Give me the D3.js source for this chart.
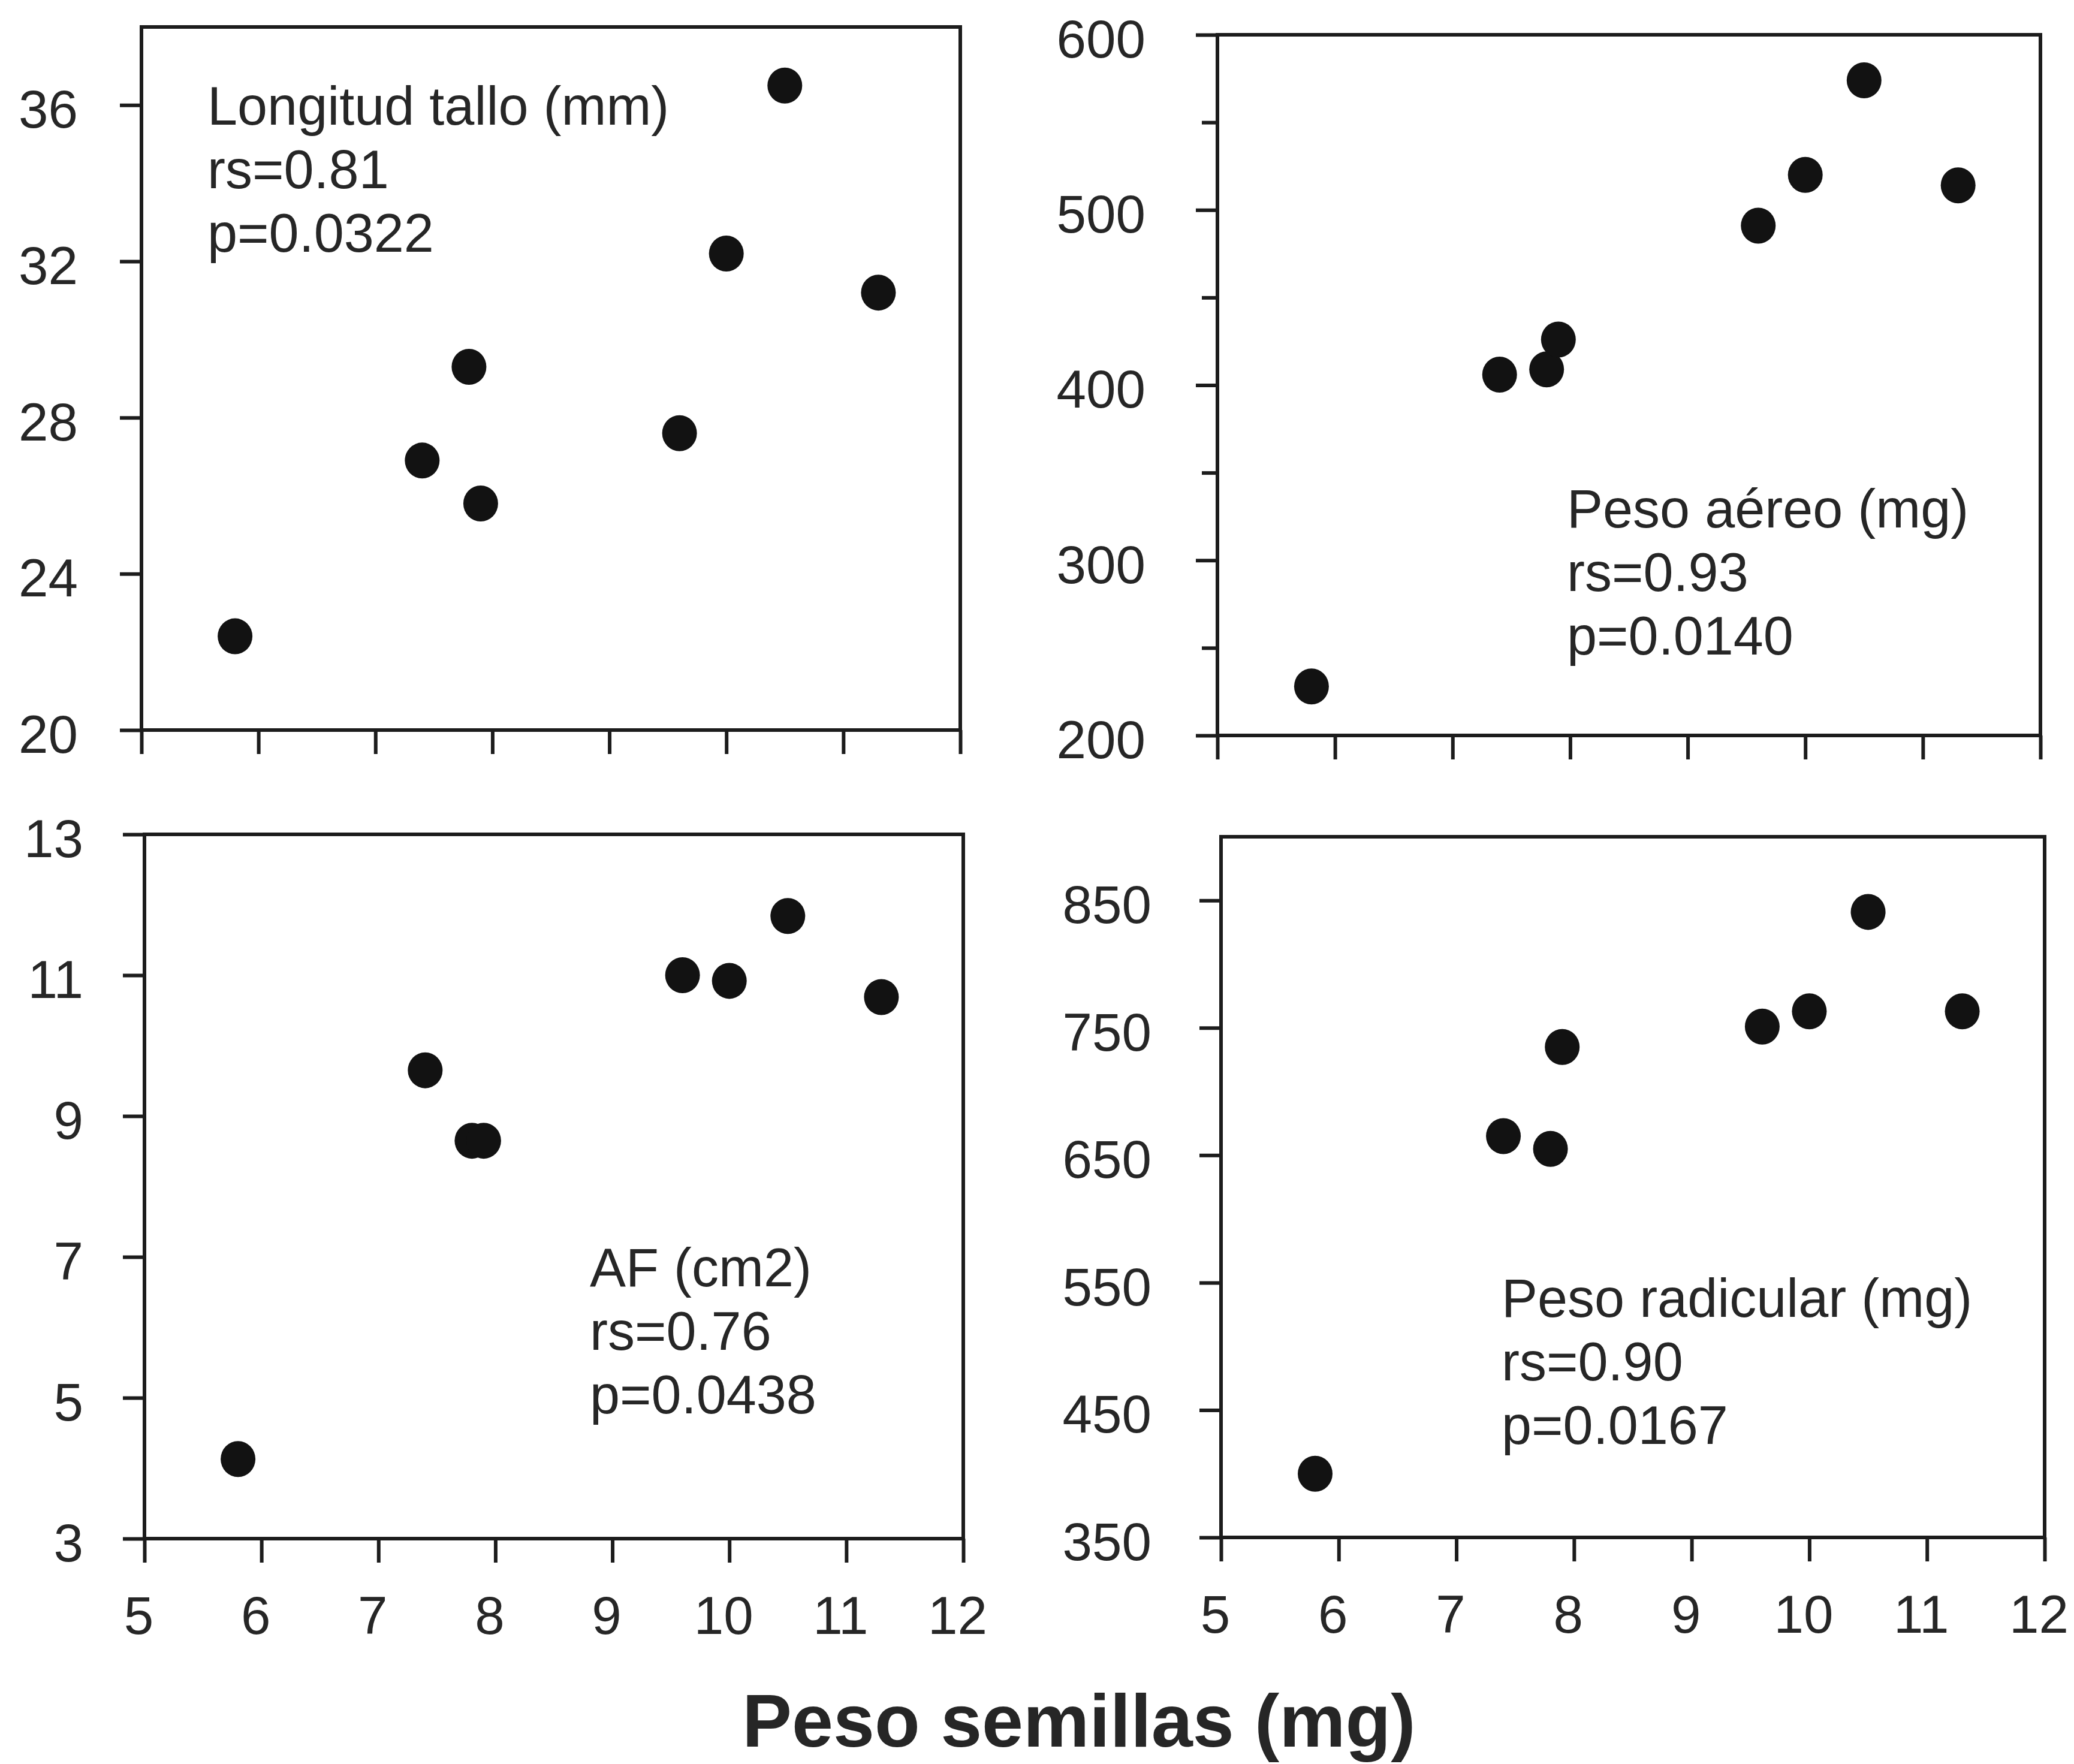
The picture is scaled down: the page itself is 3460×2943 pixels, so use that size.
<!DOCTYPE html>
<html lang="es">

<head>
    <meta charset="UTF-8">
    <title>Peso semillas</title>
    <script src="https://d3js.org/d3.v7.min.js"></script>
    <style>
        body { margin: 0; background: #fff; }
        text { font-family: "Liberation Sans", Arial, Helvetica, sans-serif; fill: #262626; }
        .frame { fill: none; stroke: #1c1c1c; stroke-width: 6; }
        .tick line { stroke: #1c1c1c; stroke-width: 6; }
        .dot { fill: #121212; }
    </style>
</head>

<body>
    <svg width="3460" height="2943"></svg>

    <script>
        // seed weight (mg), shared x values of the four panels
        const seedWeight = [5.8, 7.4, 7.8, 7.9, 9.6, 10.0, 10.5, 11.3];

        // response variables, same order as seedWeight
        const stemLength = [22.4, 26.9, 29.3, 25.8, 27.6, 32.2, 36.5, 31.2];
        const shootWeight = [228, 406, 409, 426, 491, 520, 574, 514];
        const leafArea = [4.13, 9.65, 8.65, 8.65, 11.0, 10.92, 11.84, 10.69];
        const rootWeight = [400, 665, 655, 735, 751, 763, 841, 763];

        // tick values
        const xTicks = [5, 6, 7, 8, 9, 10, 11, 12];
        const stemTicks = [20, 24, 28, 32, 36];
        const shootTicks = [200, 300, 400, 500, 600];
        const shootMinor = [250, 350, 450, 550];
        const leafTicks = [3, 5, 7, 9, 11, 13];
        const rootTicks = [350, 450, 550, 650, 750, 850];

        // annotation texts
        const panelTitles = ["Longitud tallo (mm)", "Peso aéreo (mg)", "AF (cm2)", "Peso radicular (mg)"];
        const rsValues = ["rs=0.81", "rs=0.93", "rs=0.76", "rs=0.90"];
        const pValues = ["p=0.0322", "p=0.0140", "p=0.0438", "p=0.0167"];
        const xTitle = "Peso semillas (mg)";

        const svg = d3.select("svg");

        // panel layout (pixels)
        const panels = [
            { values: stemLength, domain: [20, 38], ticks: stemTicks, minor: [],
              left: 236, right: 1602, top: 45, bottom: 1218, pad: 70, xLabels: false,
              noteX: 346, noteY: 208 },
            { values: shootWeight, domain: [200, 600], ticks: shootTicks, minor: shootMinor,
              left: 2031, right: 3404, top: 58, bottom: 1227, pad: 84, xLabels: false,
              noteX: 2614, noteY: 880 },
            { values: leafArea, domain: [3, 13], ticks: leafTicks, minor: [],
              left: 241, right: 1607, top: 1392, bottom: 2567, pad: 66, xLabels: true,
              noteX: 984, noteY: 2146 },
            { values: rootWeight, domain: [350, 900], ticks: rootTicks, minor: [],
              left: 2037, right: 3411, top: 1396, bottom: 2565, pad: 80, xLabels: true,
              noteX: 2505, noteY: 2197 }
        ];

        const lineGap = 106;

        panels.forEach((p, i) => {
            const x = d3.scaleLinear().domain([5, 12]).range([p.left, p.right]);
            const y = d3.scaleLinear().domain(p.domain).range([p.bottom, p.top]);
            const g = svg.append("g");

            // y axis
            const yAxis = g.append("g")
                .attr("transform", `translate(${p.left},0)`)
                .call(d3.axisLeft(y).tickValues(p.ticks).tickSize(36).tickPadding(p.pad).tickSizeOuter(0));
            yAxis.select(".domain").remove();
            yAxis.selectAll("text").attr("font-size", 89).attr("dy", "0.42em")
                .style("font-family", '"Liberation Sans", Arial, sans-serif').attr("fill", "#262626");

            if (p.minor.length) {
                const m = g.append("g")
                    .attr("transform", `translate(${p.left},0)`)
                    .call(d3.axisLeft(y).tickValues(p.minor).tickSize(26).tickFormat(""));
                m.select(".domain").remove();
            }

            // x axis
            const xAxis = g.append("g")
                .attr("transform", `translate(0,${p.bottom})`)
                .call(d3.axisBottom(x).tickValues(xTicks).tickSize(40).tickPadding(56).tickSizeOuter(0)
                    .tickFormat(p.xLabels ? d3.format("d") : ""));
            xAxis.select(".domain").remove();
            xAxis.selectAll("text").attr("font-size", 89).attr("dx", -10)
                .style("font-family", '"Liberation Sans", Arial, sans-serif').attr("fill", "#262626");

            // frame
            g.append("rect")
                .attr("class", "frame")
                .attr("x", p.left)
                .attr("y", p.top)
                .attr("width", p.right - p.left)
                .attr("height", p.bottom - p.top);

            // points
            g.selectAll(".dot")
                .data(seedWeight.map((s, k) => ({ s: s, v: p.values[k] })))
                .join("ellipse")
                .attr("class", "dot")
                .attr("cx", d => x(d.s))
                .attr("cy", d => y(d.v))
                .attr("rx", 29)
                .attr("ry", 30);

            // annotation
            [panelTitles[i], rsValues[i], pValues[i]].forEach((t, k) => {
                g.append("text")
                    .attr("x", p.noteX)
                    .attr("y", p.noteY + k * lineGap)
                    .attr("font-size", 90)
                    .text(t);
            });
        });

        // common x title
        svg.append("text")
            .attr("x", 1800)
            .attr("y", 2914)
            .attr("text-anchor", "middle")
            .attr("font-size", 124)
            .attr("font-weight", "bold")
            .attr("fill", "#111")
            .text(xTitle);
    </script>
</body>

</html>
